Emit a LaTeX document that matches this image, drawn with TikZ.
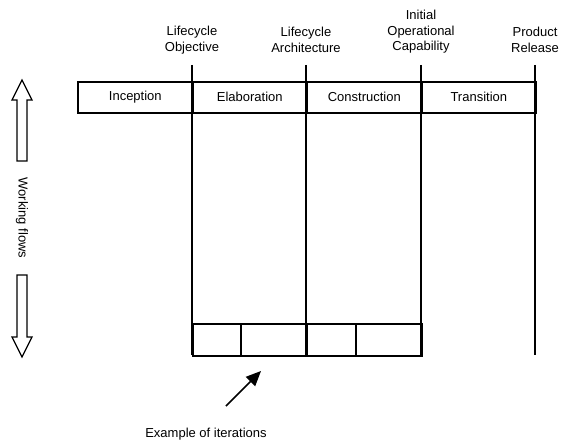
\documentclass[tikz,border=0pt]{standalone}
\usepackage{fontspec}
\setmainfont{Liberation Sans}
\usetikzlibrary{arrows.meta}
\begin{document}
\begin{tikzpicture}[x=1pt,y=-1pt,
  every node/.style={font=\fontsize{13}{15.5}\selectfont},
  line/.style={line width=1.5pt},
  phase/.style={draw,line width=1.6pt,minimum height=31pt,inner sep=0pt,anchor=north west},
  iter/.style={draw,line width=1.6pt,minimum height=32pt,inner sep=0pt,anchor=north west},
  mile/.style={align=center,inner sep=0pt}]
\useasboundingbox (0,0) rectangle (562,444);

% milestone lines
\foreach \n/\x in {a/192,b/306,c/421,d/535}{
  \coordinate (top\n) at (\x,65);
  \coordinate (bot\n) at (\x,355);
  \draw[line] (top\n) -- (bot\n);
}

% phases
\node[phase,minimum width=115pt] (inc) at (77,81) {Inception};
\node[phase,minimum width=114pt] (ela) at (192,81) {Elaboration};
\node[phase,minimum width=115pt] (con) at (306,81) {Construction};
\node[phase,minimum width=114pt] (tra) at (421,81) {Transition};

% iterations
\node[iter,minimum width=48pt] (i1) at (192,323) {};
\node[iter,minimum width=66pt] (i2) at (240,323) {};
\node[iter,minimum width=49pt] (i3) at (306,323) {};
\node[iter,minimum width=66pt] (i4) at (355,323) {};

% milestone labels
\node[mile] (lo) at (192,40) {Lifecycle\\Objective};
\node[mile] (la) at (306,40) {Lifecycle\\Architecture};
\node[mile] (ioc) at (421,32) {Initial\\Operational\\Capability};
\node[mile] (pr) at (535,40) {Product\\Release};

% working flows arrows
\draw[line width=1.3pt,line join=miter] (17,161) -- (17,100) -- (12,100) -- (22,80) -- (32,100) -- (27,100) -- (27,161) -- cycle;
\draw[line width=1.3pt,line join=miter] (17,275) -- (17,337) -- (12,337) -- (22,357) -- (32,337) -- (27,337) -- (27,275) -- cycle;
\node[rotate=-90,inner sep=0pt] (wf) at (22,218) {Working flows};

% iteration pointer
\node[inner sep=0pt] (ex) at (206,434) {Example of iterations};
\coordinate (tail) at (226,406);
\coordinate (tip) at (261,371);
\draw[line width=1.6pt,-{Triangle[length=15pt,width=13pt]}] (tail) -- (tip);
\end{tikzpicture}
\end{document}
